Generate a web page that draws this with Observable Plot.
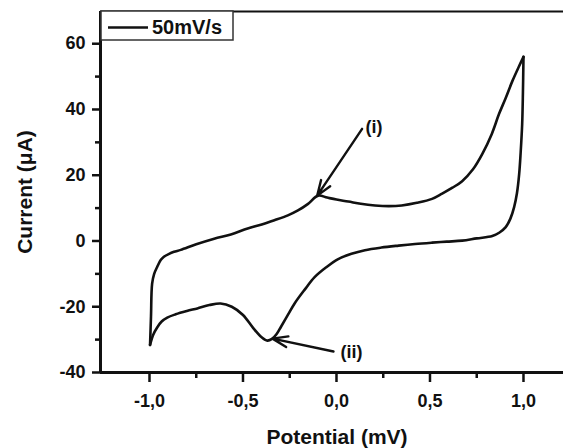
<!DOCTYPE html>
<html>
<head>
<meta charset="utf-8">
<script src="https://cdn.jsdelivr.net/npm/d3@7"></script>
<script src="https://cdn.jsdelivr.net/npm/@observablehq/plot@0.6"></script>
<style>
  html, body { margin: 0; padding: 0; background: #fff; }
  #chart svg { display: block; overflow: visible; }
  #chart text { font-weight: bold; }
</style>
</head>
<body>
<div id="chart"></div>
<script>
// ---- data ----
const forwardPotential = [-0.997, -0.992, -0.986, -0.975, -0.959, -0.94, -0.923, -0.895, -0.869, -0.833, -0.75, -0.654, -0.565, -0.475, -0.40, -0.332, -0.26, -0.206, -0.152, -0.098, -0.05, 0.0, 0.063, 0.13, 0.206, 0.28, 0.349, 0.43, 0.511, 0.565, 0.62, 0.672, 0.73, 0.780, 0.83, 0.869, 0.905, 0.941, 0.975, 1.0];
const forwardCurrent = [-31.6, -23, -13, -10, -7.9, -5.8, -4.8, -3.9, -3.3, -2.7, -1.0, 0.7, 2.0, 3.8, 5.0, 6.3, 7.8, 9.3, 11.3, 13.8, 13.2, 12.6, 12.0, 11.3, 10.8, 10.6, 10.8, 11.6, 12.8, 14.4, 16.2, 18.2, 21.8, 26.5, 32.5, 38.6, 43.5, 48.7, 53.0, 56.0];
const reversePotential = [1.0, 0.997, 0.993, 0.985, 0.977, 0.965, 0.950, 0.930, 0.905, 0.87, 0.833, 0.75, 0.672, 0.59, 0.511, 0.42, 0.332, 0.24, 0.152, 0.08, 0.009, -0.055, -0.117, -0.17, -0.224, -0.26, -0.296, -0.32, -0.345, -0.37, -0.40, -0.445, -0.50, -0.56, -0.62, -0.68, -0.744, -0.80, -0.86, -0.905, -0.935, -0.959, -0.98, -0.997];
const reverseCurrent = [56.0, 45.0, 35.6, 27.0, 20.4, 14.5, 10.3, 6.8, 4.2, 2.5, 1.5, 0.8, 0.1, -0.2, -0.5, -0.9, -1.4, -2.0, -2.8, -3.9, -5.5, -8.0, -11.0, -14.8, -19.0, -22.5, -26.0, -28.3, -29.8, -30.3, -29.3, -26.5, -22.5, -20.0, -19.0, -19.5, -20.5, -21.3, -22.3, -23.3, -24.5, -26.3, -28.5, -31.6];

const xDomain = [-1.262, 1.214];
const yDomain = [-40, 69.8];
const xTicks = [-1.0, -0.5, 0.0, 0.5, 1.0];
const xTickLabels = ["-1,0", "-0,5", "0,0", "0,5", "1,0"];
const xMinorTicks = [-0.75, -0.25, 0.25, 0.75];
const yTicks = [-40, -20, 0, 20, 40, 60];
const yTickLabels = ["-40", "-20", "0", "20", "40", "60"];
const yMinorTicks = [-30, -10, 10, 30, 50];
const xTitle = "Potential (mV)";
const yTitle = "Current (\u03bcA)";
const legendLabel = "50mV/s";

// annotations: arrow tail (x1,y1) -> head (x2,y2), label position
const annoLabels = ["(i)", "(ii)"];
const annoTailX = [0.137, -0.016];
const annoTailY = [34.1, -33.6];
const annoHeadX = [-0.103, -0.342];
const annoHeadY = [13.8, -29.7];
const annoLabelX = [0.155, 0.021];
const annoLabelY = [34.6, -33.8];

// ---- build tables ----
const curve = [
  ...forwardPotential.map((x, i) => ({scan: "forward", x, y: forwardCurrent[i]})),
  ...reversePotential.map((x, i) => ({scan: "reverse", x, y: reverseCurrent[i]}))
];
const annos = annoLabels.map((label, i) => ({
  label, x1: annoTailX[i], y1: annoTailY[i], x2: annoHeadX[i], y2: annoHeadY[i],
  lx: annoLabelX[i], ly: annoLabelY[i]
}));
const xFmt = new Map(xTicks.map((t, i) => [t, xTickLabels[i]]));
const yFmt = new Map(yTicks.map((t, i) => [t, yTickLabels[i]]));

const W = 563, H = 448, mL = 100, mT = 11, mR = 0, mB = 76;
const font = "'Liberation Sans', Arial, Helvetica, sans-serif";

const svg = Plot.plot({
  width: W, height: H,
  marginLeft: mL, marginTop: mT, marginRight: mR, marginBottom: mB,
  style: {fontFamily: font, color: "#111", background: "#fff", overflow: "visible"},
  x: {domain: xDomain, label: null},
  y: {domain: yDomain, label: null},
  marks: [
    // frame lines
    Plot.ruleY([yDomain[1]], {stroke: "#111", strokeWidth: 2}),
    Plot.ruleY([yDomain[0]], {stroke: "#111", strokeWidth: 3}),
    Plot.ruleX([xDomain[0]], {stroke: "#111", strokeWidth: 3}),
    // axes (outward ticks, major + minor)
    Plot.axisX({ticks: xTicks, tickSize: 10, tickPadding: 12, tickFormat: d => xFmt.get(d), fontSize: 18, stroke: "#111", strokeWidth: 2.5, label: null}),
    Plot.axisX({ticks: xMinorTicks, tickSize: 6, tickFormat: () => "", stroke: "#111", strokeWidth: 2.5, label: null}),
    Plot.axisY({ticks: yTicks, tickSize: 8, tickPadding: 7, tickFormat: d => yFmt.get(d), fontSize: 18, strokeWidth: 2.5, label: null}),
    Plot.axisY({ticks: yMinorTicks, tickSize: 5, tickFormat: () => "", strokeWidth: 2.5, label: null}),
    // titles
    Plot.text([xTitle], {frameAnchor: "bottom", dx: 5, dy: 71, lineAnchor: "bottom", textAnchor: "middle", text: d => d, fontSize: 21, fontWeight: "bold"}),
    Plot.text([yTitle], {frameAnchor: "left", dx: -75, rotate: -90, textAnchor: "middle", text: d => d, fontSize: 21, fontWeight: "bold"}),
    // CV loop
    Plot.line(curve, {x: "x", y: "y", z: "scan", curve: "catmull-rom", stroke: "#111", strokeWidth: 2.6}),
    // annotations
    Plot.arrow(annos, {x1: "x1", y1: "y1", x2: "x2", y2: "y2", stroke: "#111", strokeWidth: 2.4, headLength: 10, headAngle: 40}),
    Plot.text(annos, {x: "lx", y: "ly", text: "label", textAnchor: "start", fontSize: 18, fontWeight: "bold"})
  ]
});

// legend box (decoration inside the frame, top-left)
const g = d3.select(svg).append("g");
g.append("rect").attr("x", mL + 1).attr("y", mT).attr("width", 132).attr("height", 29)
  .attr("fill", "#fff").attr("stroke", "#333").attr("stroke-width", 1.5);
g.append("line").attr("x1", mL + 8).attr("x2", mL + 48).attr("y1", mT + 16.5).attr("y2", mT + 16.5)
  .attr("stroke", "#111").attr("stroke-width", 2.6);
g.append("text").attr("x", mL + 52).attr("y", mT + 22.5).text(legendLabel)
  .attr("text-anchor", "start")
  .attr("font-size", 20).attr("font-weight", "bold").attr("font-family", font).attr("fill", "#111");

document.getElementById("chart").appendChild(svg);
</script>
</body>
</html>
